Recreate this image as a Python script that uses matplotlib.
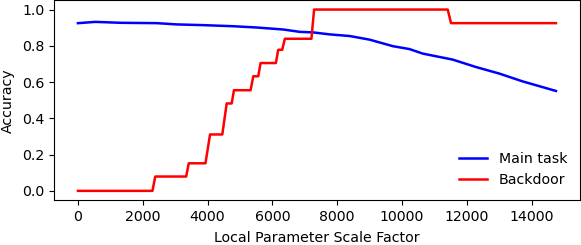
import matplotlib
matplotlib.use('Agg')
import matplotlib.pyplot as plt

# Main task accuracy
main_x = [0, 540, 1308, 2436, 3052, 3871, 4795, 5513, 6333, 6846, 7256,
          7769, 8385, 9000, 9718, 10231, 10641, 11564, 12282, 13000, 13718, 14750]
main_acc = [0.925, 0.932, 0.927, 0.925, 0.918, 0.914, 0.908, 0.901, 0.890, 0.877, 0.874,
            0.863, 0.854, 0.834, 0.798, 0.782, 0.757, 0.724, 0.683, 0.647, 0.604, 0.551]

# Backdoor accuracy: step curve breakpoints
bd_x = [0, 2300, 2385, 3340, 3420, 3935, 4077, 4455, 4590, 4744, 4815, 5328,
        5410, 5564, 5636, 6108, 6180, 6303, 6385, 7205, 7287, 11410, 11513, 14750]
bd_acc = [0.0, 0.0, 0.079, 0.079, 0.152, 0.152, 0.311, 0.311, 0.482, 0.482, 0.555, 0.555,
          0.632, 0.632, 0.705, 0.705, 0.778, 0.778, 0.839, 0.839, 1.0, 1.0, 0.925, 0.925]

plt.rcParams['font.size'] = 10.2

fig = plt.figure(figsize=(5.81, 2.45), dpi=100)
ax = fig.add_axes([0.093, 0.184, 0.905, 0.814])

ax.plot(main_x, main_acc, color='blue', linewidth=1.8, label='Main task')
ax.plot(bd_x, bd_acc, color='red', linewidth=1.8, label='Backdoor')

ax.set_xticks([0, 2000, 4000, 6000, 8000, 10000, 12000, 14000])
ax.set_yticks([0.0, 0.2, 0.4, 0.6, 0.8, 1.0])
ax.set_xlabel('Local Parameter Scale Factor', labelpad=5)
ax.set_ylabel('Accuracy', labelpad=5)
ax.legend(loc='lower right', frameon=False)

fig.savefig('out.png', dpi=100)
